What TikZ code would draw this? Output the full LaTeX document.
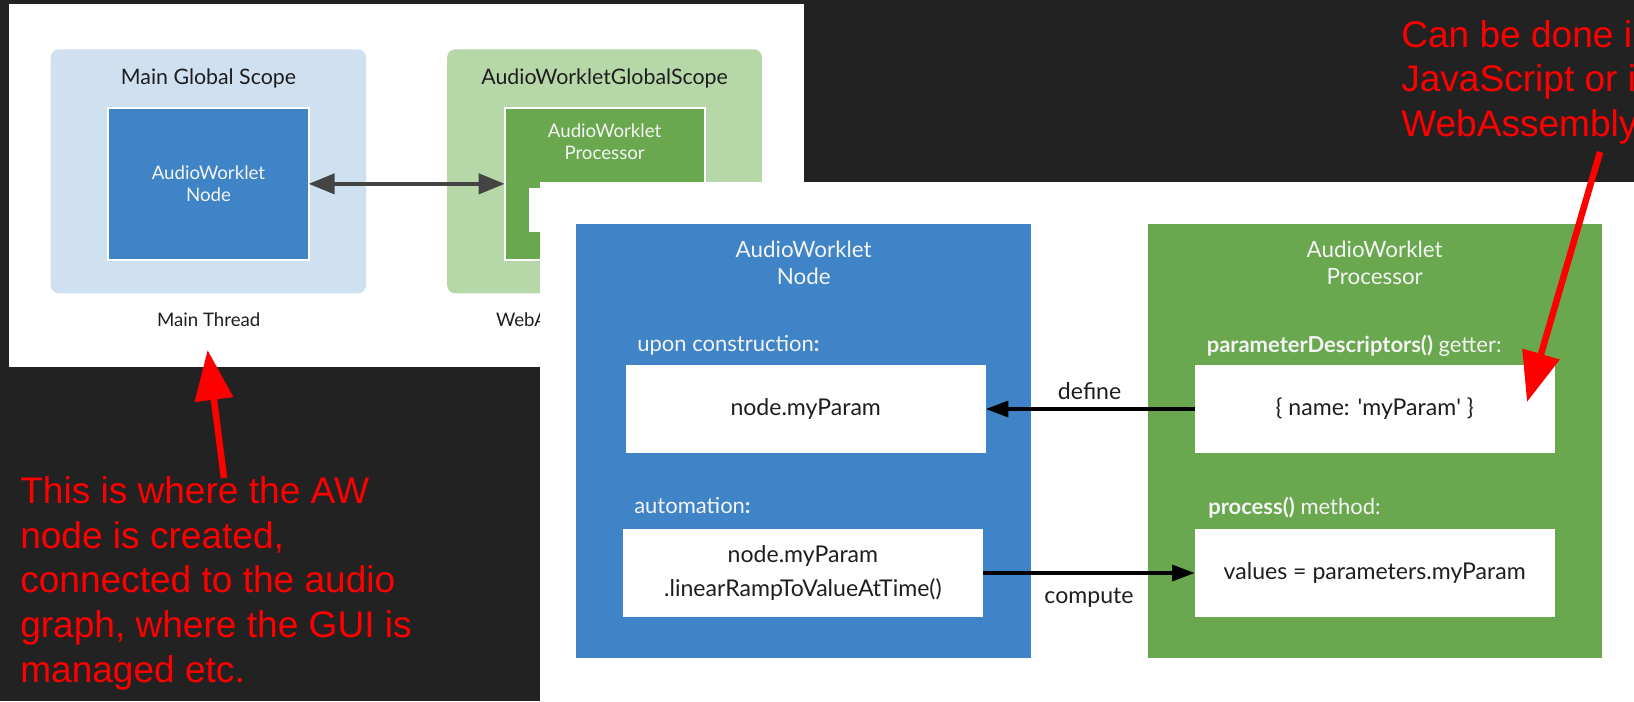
\documentclass[tikz,border=0pt]{standalone}
\usepackage{fontspec}
\setmainfont{Lato}
\newfontfamily\redfont{Liberation Sans}
\usetikzlibrary{arrows.meta,fit}
\definecolor{bg}{HTML}{222222}
\definecolor{lblue}{HTML}{CFE0F1}
\definecolor{lgreen}{HTML}{B6D7A8}
\definecolor{dblue}{HTML}{3E84C6}
\definecolor{dgreen}{HTML}{6AA84F}
\definecolor{arrgray}{HTML}{444444}
\definecolor{txt}{HTML}{1E1E1E}
\definecolor{ltxt}{HTML}{F4F4F4}
\definecolor{annot}{HTML}{FF0000}
\newcommand\toptitlefont{\fontsize{16pt}{19pt}\selectfont}
\newcommand\topinfont{\fontsize{14pt}{16.7pt}\selectfont}
\newcommand\botfont{\fontsize{17.3pt}{25.5pt}\selectfont}
\newcommand\sublabelfont{\fontsize{16.5pt}{20pt}\selectfont}
\newcommand\bottitlefont{\fontsize{16.8pt}{20.3pt}\selectfont}
\newcommand\redtxt{\redfont\fontsize{27.8pt}{33.5pt}\selectfont}
\begin{document}
\begin{tikzpicture}[x=0.75pt,y=-0.75pt,
  area/.style={inner sep=0pt, outer sep=0pt},
  panel/.style={area, fill=white},
  scopebox/.style={area, fill=#1, rounded corners=6pt},
  inbox/.style={area, fill=#1, draw=white, line width=1.5pt, text=ltxt, align=center, font=\topinfont},
  bigbox/.style={area, fill=#1},
  codebox/.style={area, fill=white, text=txt, align=center, font=\botfont, minimum width=270pt, minimum height=66.3pt},
  toplabel/.style={inner sep=0pt, text=txt, font=\toptitlefont},
  threadlabel/.style={inner sep=0pt, text=txt, font=\topinfont},
  boxtitle/.style={inner sep=0pt, text=ltxt, align=center, font=\bottitlefont},
  sublabel/.style={inner sep=0pt, text=ltxt, font=\sublabelfont},
  flowlabel/.style={inner sep=0pt, text=txt, font=\botfont},
  redtext/.style={inner sep=0pt, text=annot, align=left, font=\redtxt},
  dblarrow/.style={draw=arrgray, line width=3pt, {Triangle[length=19.5pt,width=15pt]}-{Triangle[length=19.5pt,width=15pt]}},
  flowarrow/.style={draw=black, line width=2.5pt, -{Triangle[length=17pt,width=12pt]}},
  redarrow/.style={draw=annot, line width=4.9pt, -{Triangle[length=37.5pt,width=28pt]}}
]
\fill[bg] (0,0) rectangle (1634,701);
\useasboundingbox (0,0) rectangle (1634,701);

% ---------- top-left panel ----------
\node[panel, fit={(9,4) (804,367)}] (p1) {};
\node[scopebox=lblue, fit={(50.7,49.3) (366,293.3)}] (ms) {};
\node[scopebox=lgreen, fit={(447.2,49.3) (762,293.3)}] (ws) {};
\node[toplabel, anchor=base] (mst) at (208.5,84) {Main Global Scope};
\node[toplabel, anchor=base] (wst) at (604.6,84) {AudioWorkletGlobalScope};
\node[inbox=dblue, minimum width=150.2pt, minimum height=114.2pt] (awn) at (208.45,183.85) {AudioWorklet\\Node};
\node[inbox=dgreen, fit={(504.7,107.7) (704.5,260)}] (awp) {};
\node[inner sep=0pt, text=ltxt, align=center, font=\topinfont, anchor=north] (awpt) at (604.6,123.2) {AudioWorklet\\Processor};
\node[area, fill=white, fit={(529.3,188.3) (570,232.3)}] (awpw) {};
\draw[dblarrow] (awn.east) -- (awp.west);
\node[threadlabel, anchor=base] (mt) at (208.7,326.7) {Main Thread};
\node[threadlabel, anchor=base west] (wt) at (495.8,326.7) {WebA};

% ---------- red annotation, bottom left ----------
\node[redtext, anchor=north west] (note1) at (20,476.5) {This is where the AW\\node is created,\\connected to the audio\\graph, where the GUI is\\managed etc.};
\coordinate (r1s) at (224,478);
\coordinate (r1e) at (207.6,350);
\draw[redarrow] (r1s) -- (r1e);

% ---------- bottom-right panel ----------
\node[panel, fit={(540,182) (1634,701)}] (p2) {};
\node[bigbox=dblue, fit={(576.4,224.2) (1031,658)}] (nodebox) {};
\node[bigbox=dgreen, fit={(1147.8,224.2) (1601.6,658)}] (procbox) {};
\node[boxtitle, anchor=north] (nodet) at (803.7,240.6) {AudioWorklet\\Node};
\node[boxtitle, anchor=north] (proct) at (1374.7,240.6) {AudioWorklet\\Processor};

\node[sublabel, anchor=base west] (uc) at (637,351.4) {upon construction\textbf{:}};
\node[codebox] (wb1) at (805.7,409) {node.myParam};
\node[sublabel, anchor=base west] (am) at (634,513.4) {automation\textbf{:}};
\node[codebox] (wb2) at (802.9,573) {node.myParam\\.linearRampToValueAtTime()};

\node[sublabel, anchor=base west] (pd) at (1206.5,352) {\textbf{parameterDescriptors()} getter:};
\node[codebox] (wb3) at (1374.7,409) {\{ name: \textquotesingle myParam\textquotesingle\ \}};
\node[sublabel, anchor=base west] (pm) at (1208,514) {\textbf{process()} method:};
\node[codebox] (wb4) at (1374.7,573) {values = parameters.myParam};

\draw[flowarrow] (wb3.west) -- (wb1.east);
\draw[flowarrow] (wb2.east) -- (wb4.west);
\node[flowlabel, anchor=base] (deflab) at (1089.6,399) {define};
\node[flowlabel, anchor=base] (complab) at (1089,603.5) {compute};

% ---------- red annotation, top right ----------
\node[redtext, anchor=north west] (note2) at (1401,20.2) {Can be done in\\JavaScript or in\\WebAssembly};
\coordinate (r2s) at (1600,152);
\coordinate (r2e) at (1527,402);
\draw[redarrow] (r2s) -- (r2e);
\end{tikzpicture}
\end{document}
